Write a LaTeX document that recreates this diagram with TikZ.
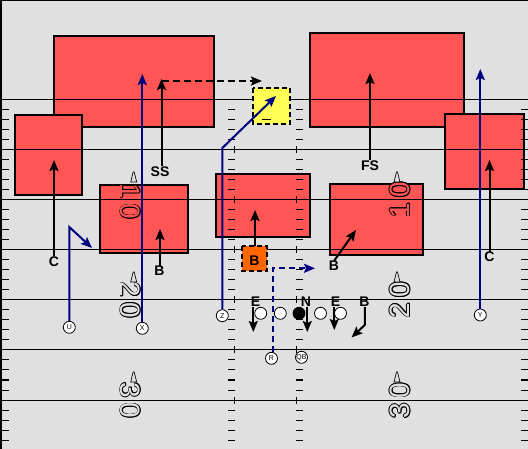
\documentclass[tikz,border=0pt]{standalone}
\usepackage{fontspec}
\setmainfont{Liberation Sans}
\usetikzlibrary{arrows.meta}
\definecolor{bg}{HTML}{E0E0E0}
\definecolor{zone}{HTML}{FF5555}
\definecolor{yel}{HTML}{FFFF55}
\definecolor{org}{HTML}{FF6600}
\definecolor{navy}{HTML}{000080}
\newcommand{\ynum}[6]{%
  \foreach \dx/\dy [count=\k] in {0.8/0,-0.8/0,0/0.8,0/-0.8,0.57/0.57,0.57/-0.57,-0.57/0.57,-0.57/-0.57}{%
    \node[ydig,text=black,rotate=#4] (#1c\k) at (#2+\dx,#3+\dy) {#6};}%
  \node[ydig,text=#5,rotate=#4] (#1) at (#2,#3) {#6};}
\begin{document}
\begin{tikzpicture}[x=1pt,y=-1pt,
  zonebox/.style={fill=zone,draw=black,line width=2pt},
  dbox/.style={draw=black,line width=2pt,dash pattern=on 5pt off 3pt},
  yard/.style={line width=1pt},
  hashm/.style={line width=1pt},
  arr/.style={line width=2pt,-{Stealth[length=11pt,width=9pt,inset=2pt]}},
  route/.style={draw=navy,line width=2pt},
  lbl/.style={font=\bfseries\fontsize{14}{14}\selectfont,inner sep=0pt},
  player/.style={circle,draw,fill=white,minimum size=12pt,inner sep=0pt,line width=0.8pt},
  rcv/.style={circle,draw,fill=white,minimum size=12pt,inner sep=0pt,line width=0.8pt,font=\fontsize{7}{7}\selectfont},
  ydig/.style={font=\fontsize{28}{28}\selectfont,inner sep=0pt},
  tri/.style={draw=black,fill=bg,line width=0.7pt}]
\fill[bg] (0,0) rectangle (528,449);
\useasboundingbox (0,0) rectangle (528,449);
% zones
\draw[zonebox] (54,36) rectangle (214,127);
\draw[zonebox] (15,115) rectangle (82,195);
\draw[zonebox] (100,185) rectangle (188,253);
\draw[zonebox] (216,174) rectangle (310,237);
\draw[zonebox] (330,184) rectangle (423,255);
\draw[zonebox] (310,33) rectangle (464,127);
\draw[zonebox] (445,114) rectangle (524,189);
% yard lines
\foreach \y in {100,150,...,400} \draw[yard] (0,\y) -- (528,\y);
% hashes
\foreach \b in {100,150,...,400}{
  \foreach \o in {10,20,30,40}{
    \pgfmathtruncatemacro\yy{\b+\o}
    \draw[hashm] (2,\yy) -- (9,\yy);
    \draw[hashm] (228,\yy) -- (235,\yy);
    \draw[hashm] (296,\yy) -- (303,\yy);
    \draw[hashm] (521,\yy) -- (528,\yy);
  }}
\foreach \y in {150,200,...,400}{
  \draw[hashm] (234.5,\y-3.5) -- (234.5,\y+3.5);
  \draw[hashm] (296.5,\y-3.5) -- (296.5,\y+3.5);}
% border
\draw[line width=2pt] (1,449) -- (1,0);
\draw[line width=1.5pt] (0,0.75) -- (528,0.75);
% yard numbers
\ynum{l10}{130.5}{201.5}{-90}{zone}{1\kern5pt0}
\ynum{l20}{130.5}{300}{-90}{bg}{2\kern5pt0}
\ynum{l30}{130.5}{400.5}{-90}{bg}{3\kern5pt0}
\ynum{r10}{400}{200}{90}{zone}{1\kern5pt0}
\ynum{r20}{400}{300}{90}{bg}{2\kern5pt0}
\ynum{r30}{400}{400.5}{90}{bg}{3\kern5pt0}
\foreach \x in {133.7,397}{
  \foreach \y in {172,272,372}{
    \draw[tri] (\x-3,\y+10) -- (\x-0.5,\y) -- (\x+0.5,\y) -- (\x+3,\y+10) -- cycle;}}
% yellow and orange zones
\draw[dbox,fill=yel] (253,88) rectangle (290,124);
\draw[line width=1pt] (262,120) -- (271,120);
\draw[dbox,fill=org] (242,246) rectangle (267,271);
% receivers
\node[rcv] (U) at (69.3,327.3) {U};
\node[rcv] (X) at (142.3,328.3) {X};
\node[rcv] (Z) at (222.3,315.7) {Z};
\node[rcv] (R) at (271.5,358.3) {R};
\node[rcv] (QB) at (301.5,357.3) {QB};
\node[rcv] (Y) at (480.3,315) {Y};
% routes
\coordinate (Xt) at (142.3,74);
\draw[route,arr,draw=navy,color=navy] (X) -- (Xt);
\coordinate (Uc) at (69.3,227);
\coordinate (Ut) at (92,248);
\draw[route,arr,color=navy] (U) -- (Uc) -- (Ut);
\coordinate (Zc) at (222.3,148);
\coordinate (Zt) at (276,96);
\draw[route,arr,color=navy] (Z) -- (Zc) -- (Zt);
\coordinate (Yt) at (480.3,69);
\draw[route,arr,color=navy] (Y) -- (Yt);
\coordinate (Rc) at (272.8,268.3);
\coordinate (Rt) at (315,268.3);
\draw[route,arr,color=navy,dash pattern=on 6pt off 4pt] (R.north -| Rc) -- (Rc) -- (Rt);
% defenders
\node[lbl] (SS) at (160,171.5) {SS};
\coordinate (SSt) at (161.5,79);
\coordinate (SSd) at (161.5,81);
\coordinate (SSe) at (262,81);
\draw[arr] (SSt |- SS.north) -- (SSt);
\draw[arr,dash pattern=on 7pt off 4pt] (SSd) -- (SSe);
\node[lbl] (FS) at (370,165.5) {FS};
\coordinate (FSt) at (370,73);
\draw[arr] (FS.north -| FSt) -- (FSt);
\node[lbl] (CL) at (54,261.5) {C};
\coordinate (CLt) at (54,160);
\draw[arr] (CL.north) -- (CLt);
\node[lbl] (CR) at (489.5,257) {C};
\coordinate (CRt) at (489.5,160);
\draw[arr] (CR.north) -- (CRt);
\node[lbl] (B1) at (159.5,271) {B};
\coordinate (B1t) at (160,229);
\draw[arr] (B1.north -| B1t) -- (B1t);
\node[lbl] (B2) at (254.5,260.5) {B};
\coordinate (B2b) at (255,246);
\coordinate (B2t) at (255,210);
\draw[arr] (B2b) -- (B2t);
\node[lbl] (B3) at (334,266) {B};
\coordinate (B3t) at (356,230);
\draw[arr] (B3.north) -- (B3t);
% line
\node[player] (p1) at (260.7,313.3) {};
\node[player] (p2) at (280.3,313.3) {};
\node[player,fill=black] (p3) at (299,313.3) {};
\node[player] (p4) at (320.5,313.3) {};
\node[player] (p5) at (340.5,313.3) {};
\node[lbl] (E1) at (255.5,302) {E};
\node[lbl] (N) at (306,302) {N};
\node[lbl] (E2) at (335.5,302) {E};
\node[lbl] (B4) at (364.5,302) {B};
\coordinate (E1t) at (253.3,332);
\draw[arr] (E1.south -| E1t) -- (E1t);
\coordinate (Nt) at (307.3,332);
\draw[arr] (N.south -| Nt) -- (Nt);
\coordinate (E2t) at (334.3,330);
\draw[arr] (E2.south -| E2t) -- (E2t);
\coordinate (B4c) at (364.8,325);
\coordinate (B4t) at (351.5,337.5);
\draw[arr] (B4.south -| B4c) -- (B4c) -- (B4t);
\end{tikzpicture}
\end{document}
